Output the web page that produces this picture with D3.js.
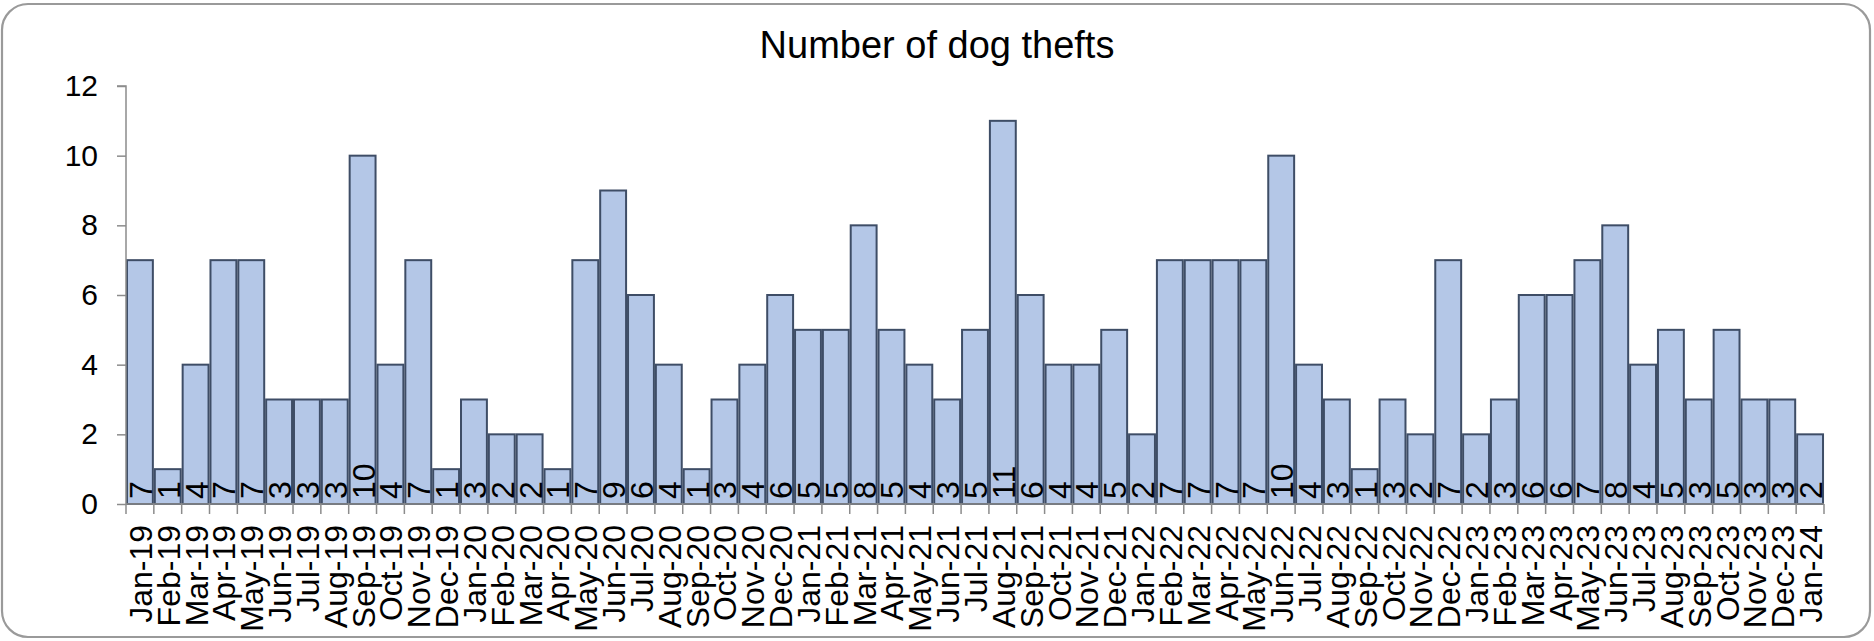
<!DOCTYPE html>
<html><head><meta charset="utf-8">
<script src="https://cdn.jsdelivr.net/npm/d3@7"></script>
<style>
html,body{margin:0;padding:0;background:#fff;}
svg{display:block;}
text{font-family:"Liberation Sans",Arial,sans-serif;fill:#000;}
</style></head><body>
<svg id="c" width="1874" height="641"></svg>
<script>
const categories = ["Jan-19","Feb-19","Mar-19","Apr-19","May-19","Jun-19","Jul-19","Aug-19","Sep-19","Oct-19","Nov-19","Dec-19",
"Jan-20","Feb-20","Mar-20","Apr-20","May-20","Jun-20","Jul-20","Aug-20","Sep-20","Oct-20","Nov-20","Dec-20",
"Jan-21","Feb-21","Mar-21","Apr-21","May-21","Jun-21","Jul-21","Aug-21","Sep-21","Oct-21","Nov-21","Dec-21",
"Jan-22","Feb-22","Mar-22","Apr-22","May-22","Jun-22","Jul-22","Aug-22","Sep-22","Oct-22","Nov-22","Dec-22",
"Jan-23","Feb-23","Mar-23","Apr-23","May-23","Jun-23","Jul-23","Aug-23","Sep-23","Oct-23","Nov-23","Dec-23",
"Jan-24"];
const thefts = [7,1,4,7,7,3,3,3,10,4,7,1,
3,2,2,1,7,9,6,4,1,3,4,6,
5,5,8,5,4,3,5,11,6,4,4,5,
2,7,7,7,7,10,4,3,1,3,2,7,
2,3,6,6,7,8,4,5,3,5,3,3,
2];
const yTicks = [0,2,4,6,8,10,12];
const title = "Number of dog thefts";

const svg = d3.select("#c");
svg.append("rect").attr("x",2).attr("y",4).attr("width",1868).attr("height",633)
  .attr("rx",26).attr("ry",26).attr("fill","#fff").attr("stroke","#9a9a9a").attr("stroke-width",2.2);

const x0 = 126, x1 = 1824, y0 = 504, y1 = 86;
const x = d3.scaleBand().domain(categories).range([x0,x1]).paddingInner(0.07).paddingOuter(0.035);
const y = d3.scaleLinear().domain([0,12]).range([y0,y1]);

svg.append("text").attr("x",937).attr("y",58).attr("text-anchor","middle")
  .style("font-size","38px").text(title);

// bars
svg.append("g").selectAll("rect").data(thefts).join("rect")
  .attr("x",(d,i)=>x(categories[i]))
  .attr("y",d=>y(d))
  .attr("width",x.bandwidth())
  .attr("height",d=>y(0)-y(d))
  .attr("fill","#b4c7e7").attr("stroke","#3e4d66").attr("stroke-width",2);

// y axis
const ya = svg.append("g").attr("transform",`translate(${x0},0)`)
  .call(d3.axisLeft(y).tickValues(yTicks).tickSize(9).tickPadding(19).tickFormat(d3.format("d")));
ya.select(".domain").attr("stroke","#8c8c8c").attr("stroke-width",1.5).attr("d",`M-9,${y1}H0V${y0}`);
ya.selectAll(".tick line").attr("stroke","#8c8c8c").attr("stroke-width",1.5);
ya.selectAll(".tick text").style("font-size","30px").style("font-family",'"Liberation Sans",Arial,sans-serif');

// x axis line and ticks at category boundaries
const bounds = d3.range(categories.length+1).map(i=> x0 + i*(x1-x0)/categories.length);
const xa = svg.append("g");
xa.append("line").attr("x1",x0).attr("x2",x1).attr("y1",y0).attr("y2",y0)
  .attr("stroke","#8c8c8c").attr("stroke-width",1.5);
xa.selectAll("line.t").data(bounds).join("line").attr("class","t")
  .attr("x1",d=>d).attr("x2",d=>d).attr("y1",y0).attr("y2",y0+10)
  .attr("stroke","#8c8c8c").attr("stroke-width",1.5);
xa.selectAll("text").data(categories).join("text")
  .attr("transform",d=>`translate(${x(d)+x.bandwidth()/2+12},${y0+21}) rotate(-90)`)
  .attr("text-anchor","end").style("font-size","32px").text(d=>d);

// data labels
svg.append("g").selectAll("text").data(thefts).join("text")
  .attr("transform",(d,i)=>`translate(${x(categories[i])+x.bandwidth()/2+12},${y0-5}) rotate(-90)`)
  .attr("text-anchor","start").style("font-size","32px").text(d=>d);
</script></body></html>
